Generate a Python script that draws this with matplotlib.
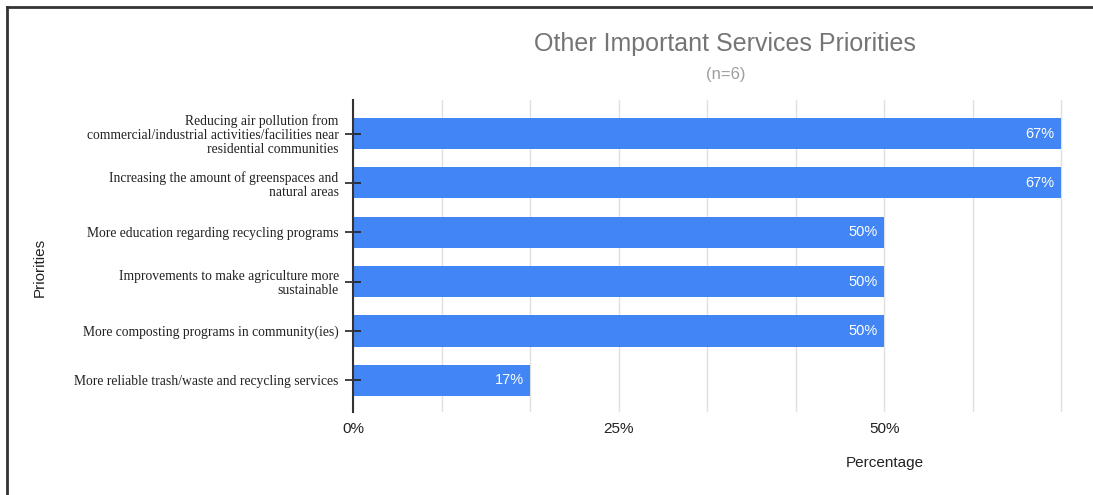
import numpy as np
import matplotlib.pyplot as plt
from matplotlib.lines import Line2D

categories = [
    "Reducing air pollution from\ncommercial/industrial activities/facilities near\nresidential communities",
    "Increasing the amount of greenspaces and\nnatural areas",
    "More education regarding recycling programs",
    "Improvements to make agriculture more\nsustainable",
    "More composting programs in community(ies)",
    "More reliable trash/waste and recycling services",
]
values = [66.67, 66.67, 50.0, 50.0, 50.0, 16.67]
labels = ["67%", "67%", "50%", "50%", "50%", "17%"]
xticks = [0, 25, 50]
xticklabels = ["0%", "25%", "50%"]

sans = ["Liberation Sans", "DejaVu Sans"]
serif = ["Liberation Serif", "DejaVu Serif"]

fig = plt.figure(figsize=(10.93, 4.95), dpi=100)
ax = fig.add_axes([353 / 1093, 1 - 412 / 495, 716 / 1093, 312 / 495])

y = np.arange(len(categories))
ax.barh(y, values, height=0.63, color="#4285F4", zorder=2)
for yi, v, lab in zip(y, values, labels):
    ax.text(v - 0.6, yi, lab, ha="right", va="center", color="white",
            fontsize=10.5, family=sans, zorder=4)

ax.set_xlim(0, 67.4)
ax.set_ylim(5.64, -0.68)

# gridlines: major every 25%, minor thirds between
for g in np.arange(0, 67, 25 / 3):
    ax.axvline(g, color="#e0e0e0", lw=1, zorder=0.8)
ax.set_axisbelow(False)

ax.set_xticks(xticks)
ax.set_xticklabels(xticklabels, family=sans, fontsize=11, color="#222222")
ax.tick_params(axis="x", length=0, pad=7)

ax.set_yticks(y)
ax.set_yticklabels(categories, family=serif, fontsize=9.8, color="#222222",
                   linespacing=1.1)
ax.tick_params(axis="y", direction="inout", length=11, width=1.2,
               color="#222222", pad=4.8)

for s in ["top", "right", "bottom"]:
    ax.spines[s].set_visible(False)
ax.spines["left"].set_color("#333333")
ax.spines["left"].set_linewidth(1.5)
ax.spines["left"].set_zorder(5)

ax.set_xlabel("Percentage", family=sans, fontsize=11, color="#222222")
ax.xaxis.set_label_coords((885 - 353) / 716, -0.14)

fig.text(40 / 1093, 1 - 267 / 495, "Priorities", rotation=90, ha="center",
         va="center", family=sans, fontsize=11, color="#222222")

fig.text(725 / 1093, 1 - 44 / 495, "Other Important Services Priorities",
         ha="center", va="center", family=sans, fontsize=18, color="#757575")
fig.text(726 / 1093, 1 - 75 / 495, "(n=6)", ha="center", va="center",
         family=sans, fontsize=12, color="#9e9e9e")

# frame lines at left and top of the image
fig.add_artist(Line2D([7 / 1093, 7 / 1093], [0, 1 - 7 / 495],
                      transform=fig.transFigure, color="#333333", lw=2))
fig.add_artist(Line2D([7 / 1093, 1], [1 - 7 / 495, 1 - 7 / 495],
                      transform=fig.transFigure, color="#333333", lw=2))

fig.savefig("out.png", dpi=100)
